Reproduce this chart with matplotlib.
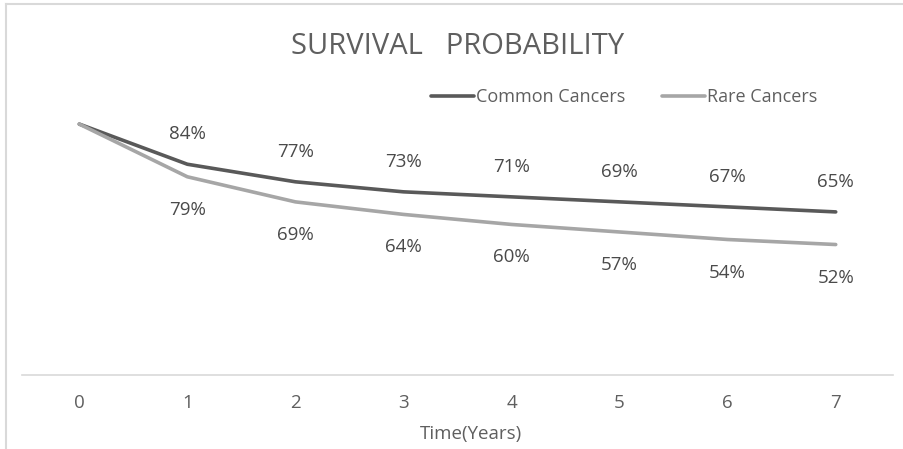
import matplotlib.pyplot as plt
from matplotlib.lines import Line2D

plt.rcParams['font.family'] = ['Open Sans', 'DejaVu Sans']

years = [0, 1, 2, 3, 4, 5, 6, 7]
common_cancers = [100, 84, 77, 73, 71, 69, 67, 65]
rare_cancers = [100, 79, 69, 64, 60, 57, 54, 52]

DARK = '#595959'
LIGHT = '#a6a6a6'
TEXT = '#5f5f5f'

fig = plt.figure(figsize=(9.04, 4.49), dpi=100)
ax = fig.add_axes([22 / 904, 1 - 375 / 449, 871 / 904, 276 / 449])

ax.plot(years, common_cancers, color=DARK, lw=2.6, solid_capstyle='round',
        solid_joinstyle='round', label='Common Cancers')
ax.plot(years, rare_cancers, color=LIGHT, lw=2.6, solid_capstyle='round',
        solid_joinstyle='round', label='Rare Cancers')

# value labels: common above the line, rare below (skip the 100% start)
for x, c, r in zip(years[1:], common_cancers[1:], rare_cancers[1:]):
    ax.annotate(f'{c}%', (x, c), xytext=(0, 30), textcoords='offset pixels',
                ha='center', va='center', fontsize=13.5, color='#4a4a4a')
    ax.annotate(f'{r}%', (x, r), xytext=(0, -33), textcoords='offset pixels',
                ha='center', va='center', fontsize=13.5, color='#4a4a4a')

ax.set_xlim(-0.53, 7.53)
ax.set_ylim(0, 110)
ax.set_yticks([])
ax.set_xticks(years)
ax.tick_params(axis='x', length=0, pad=14, labelsize=13.5, labelcolor=TEXT)
for side in ('top', 'right', 'left'):
    ax.spines[side].set_visible(False)
ax.spines['bottom'].set_color('#d9d9d9')
ax.spines['bottom'].set_linewidth(1.2)
ax.set_xlabel('Time(Years)', fontsize=13.5, color=TEXT)
ax.xaxis.set_label_coords((471 - 22) / 871, -0.18)

fig.text(458 / 904, 1 - 46 / 449, 'SURVIVAL   PROBABILITY', ha='center',
         va='center', fontsize=21, color=TEXT)

fig.legend(loc='center', bbox_to_anchor=(624 / 904, 1 - 97 / 449), ncol=2,
           frameon=False, fontsize=13, handlelength=2.4, handletextpad=0.1,
           columnspacing=2.0, labelcolor=TEXT)

# chart border (top and left edges only)
fig.add_artist(Line2D([6 / 904, 6 / 904], [0, 1 - 4 / 449], transform=fig.transFigure,
                      color='#d9d9d9', lw=1.5))
fig.add_artist(Line2D([6 / 904, 1], [1 - 4 / 449, 1 - 4 / 449], transform=fig.transFigure,
                      color='#d9d9d9', lw=1.5))

fig.savefig('out.png', dpi=100, facecolor='white')
